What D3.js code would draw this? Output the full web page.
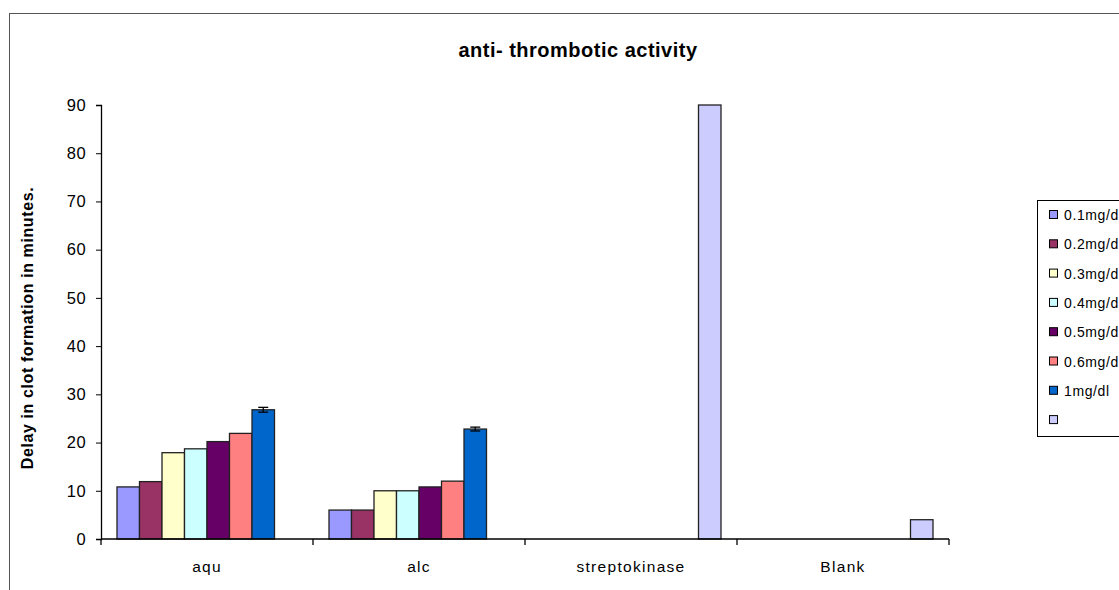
<!DOCTYPE html>
<html><head><meta charset="utf-8">
<script src="https://cdn.jsdelivr.net/npm/d3@7"></script>
<style>body{margin:0;background:#fff}svg{display:block;font-family:"Liberation Sans",Arial,sans-serif}</style>
</head><body><svg id="c" width="1119" height="590"></svg>
<script>
const categories = ["aqu", "alc", "streptokinase", "Blank"];
const seriesNames = ["0.1mg/dl", "0.2mg/dl", "0.3mg/dl", "0.4mg/dl", "0.5mg/dl", "0.6mg/dl", "1mg/dl", ""];
const seriesColors = ["#9999FF", "#993366", "#FFFFCC", "#CCFFFF", "#660066", "#FF8080", "#0066CC", "#CCCCFF"];
// values[series][category]
const s01 = [10.8, 6, 0, 0];
const s02 = [11.9, 6, 0, 0];
const s03 = [17.9, 10, 0, 0];
const s04 = [18.7, 10, 0, 0];
const s05 = [20.2, 10.8, 0, 0];
const s06 = [21.9, 12, 0, 0];
const s1 = [26.8, 22.8, 0, 0];
const sStd = [0, 0, 90, 4];
const errors1mg = [0.5, 0.4, 0, 0];
const yTicks = [0, 10, 20, 30, 40, 50, 60, 70, 80, 90];
const values = [s01, s02, s03, s04, s05, s06, s1, sStd];

const svg = d3.select("#c");
const L = 101, R = 949, T = 105, B = 539;

// outer frame
svg.append("rect").attr("x", 9.5).attr("y", 13.5).attr("width", 1200).attr("height", 700)
  .attr("fill", "none").attr("stroke", "#555").attr("stroke-width", 1);

const x0 = d3.scaleBand().domain(categories).range([L, R]).padding(0);
const margin = 16;
const x1 = d3.scaleBand().domain(d3.range(seriesNames.length)).range([margin, x0.bandwidth() - margin]).padding(0);
const y = d3.scaleLinear().domain([0, 90]).range([B, T]);

// title
svg.append("text").attr("x", 578).attr("y", 57).attr("text-anchor", "middle")
  .attr("font-weight", "bold").attr("font-size", 20).attr("letter-spacing", 0.5).text("anti- thrombotic activity");

// y axis label
svg.append("text").attr("transform", "translate(33,328) rotate(-90)").attr("text-anchor", "middle")
  .attr("font-weight", "bold").attr("font-size", 16).attr("letter-spacing", 0.6).text("Delay in clot formation in minutes.");

// bars
const g = svg.append("g");
categories.forEach((c, ci) => {
  values.forEach((vals, si) => {
    const v = vals[ci];
    if (v <= 0) return;
    g.append("rect").attr("x", x0(c) + x1(si)).attr("y", y(v))
      .attr("width", x1.bandwidth()).attr("height", y(0) - y(v))
      .attr("fill", seriesColors[si]).attr("stroke", "#222").attr("stroke-width", 1.3);
  });
  const e = errors1mg[ci];
  if (e > 0) {
    const cx = x0(c) + x1(6) + x1.bandwidth() / 2;
    const v = s1[ci];
    g.append("line").attr("x1", cx).attr("x2", cx).attr("y1", y(v + e)).attr("y2", y(v - e)).attr("stroke", "#000").attr("stroke-width", 1.3);
    [v + e, v - e].forEach(t => g.append("line").attr("x1", cx - 5).attr("x2", cx + 5).attr("y1", y(t)).attr("y2", y(t)).attr("stroke", "#000").attr("stroke-width", 1.3));
  }
});

// y axis
const ya = svg.append("g").attr("transform", `translate(${L},0)`)
  .call(d3.axisLeft(y).tickValues(yTicks).tickSize(5).tickPadding(10));
ya.select(".domain").attr("stroke", "#000").attr("stroke-width", 1.3);
ya.selectAll(".tick line").attr("stroke", "#000");
ya.selectAll(".tick text").attr("font-size", 16.5).attr("letter-spacing", 0.4).attr("fill", "#000").attr("font-family", "Liberation Sans, Arial, sans-serif");

// x axis
const xa = svg.append("g").attr("transform", `translate(0,${B})`)
  .call(d3.axisBottom(x0).tickSize(0).tickPadding(22));
xa.select(".domain").remove();
xa.append("line").attr("x1", L).attr("x2", R).attr("stroke", "#000").attr("stroke-width", 1.3);
const bounds = categories.map(c => x0(c)).concat([x0(categories[categories.length - 1]) + x0.bandwidth()]);
bounds.forEach(bx => xa.append("line").attr("x1", bx).attr("x2", bx).attr("y1", 0).attr("y2", 6).attr("stroke", "#000").attr("stroke-width", 1.3));
xa.selectAll(".tick text").attr("font-size", 15.5).attr("letter-spacing", 1.3).attr("fill", "#000").attr("font-family", "Liberation Sans, Arial, sans-serif");

// legend
svg.append("rect").attr("x", 1037.5).attr("y", 200.5).attr("width", 200).attr("height", 236)
  .attr("fill", "#fff").attr("stroke", "#000").attr("stroke-width", 1);
seriesNames.forEach((n, i) => {
  const ly = 215 + i * 29.3;
  svg.append("rect").attr("x", 1049.5).attr("y", ly - 4.5).attr("width", 8).attr("height", 8)
    .attr("fill", seriesColors[i]).attr("stroke", "#000").attr("stroke-width", 1);
  svg.append("text").attr("x", 1064).attr("y", ly + 5).attr("font-size", 14).attr("letter-spacing", 0.6).text(n);
});
</script></body></html>
